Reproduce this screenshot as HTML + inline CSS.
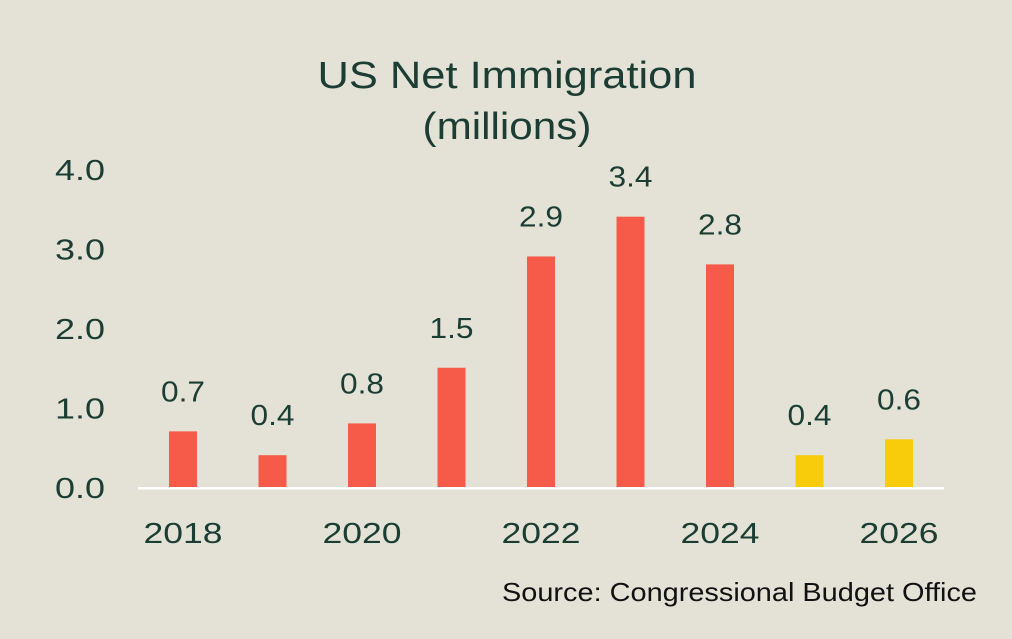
<!DOCTYPE html>
<html><head><meta charset="utf-8"><style>
html,body{margin:0;padding:0;background:#e4e2d6;}
svg{display:block;font-family:"Liberation Sans",sans-serif;}
</style></head><body>
<svg width="1012" height="639" viewBox="0 0 1012 639">
<rect width="1012" height="639" fill="#e4e2d6"/>
<text x="507" y="88" text-anchor="middle" font-size="38" textLength="379" lengthAdjust="spacingAndGlyphs" fill="#1c3d33">US Net Immigration</text>
<text x="507" y="139" text-anchor="middle" font-size="38" textLength="169" lengthAdjust="spacingAndGlyphs" fill="#1c3d33">(millions)</text>
<g id="yaxis"></g>
<g id="bars"></g>
<rect x="138" y="487" width="806" height="2.5" fill="#ffffff"/>
<g id="xaxis"></g>
<text x="977" y="601" text-anchor="end" font-size="26" textLength="475" lengthAdjust="spacingAndGlyphs" fill="#111">Source: Congressional Budget Office</text>
</svg>
<script>
const years=["2018","2019","2020","2021","2022","2023","2024","2025","2026"];
const values=[0.7,0.4,0.8,1.5,2.9,3.4,2.8,0.4,0.6];
const projected=[false,false,false,false,false,false,false,true,true];
const yTicks=[0,1,2,3,4];
const xLabels=["2018","","2020","","2022","","2024","","2026"];
const NS="http://www.w3.org/2000/svg";
const y=v=>487-v*79.5;
const x=i=>183+i*89.5;
function mk(tag,attrs,parent){const e=document.createElementNS(NS,tag);for(const k in attrs)e.setAttribute(k,attrs[k]);parent.appendChild(e);return e;}
const ya=document.getElementById('yaxis'),ba=document.getElementById('bars'),xa=document.getElementById('xaxis');
yTicks.forEach(t=>{const e=mk('text',{x:80,y:y(t)+11,'text-anchor':'middle','font-size':29,textLength:50,lengthAdjust:'spacingAndGlyphs',fill:'#1c3d33'},ya);e.textContent=t.toFixed(1);

});
values.forEach((v,i)=>{const r=mk('rect',{x:x(i)-14,y:y(v),width:28,height:487-y(v),fill:projected[i]?'#f9cc0b':'#f65a48'},ba);


const t=mk('text',{x:x(i),y:y(v)-30,'text-anchor':'middle','font-size':29,textLength:44,lengthAdjust:'spacingAndGlyphs',fill:'#1c3d33'},ba);t.textContent=v.toFixed(1);


if(xLabels[i]){const l=mk('text',{x:x(i),y:543,'text-anchor':'middle','font-size':29,textLength:79,lengthAdjust:'spacingAndGlyphs',fill:'#1c3d33'},xa);l.textContent=xLabels[i];

}});
</script>
</body></html>
